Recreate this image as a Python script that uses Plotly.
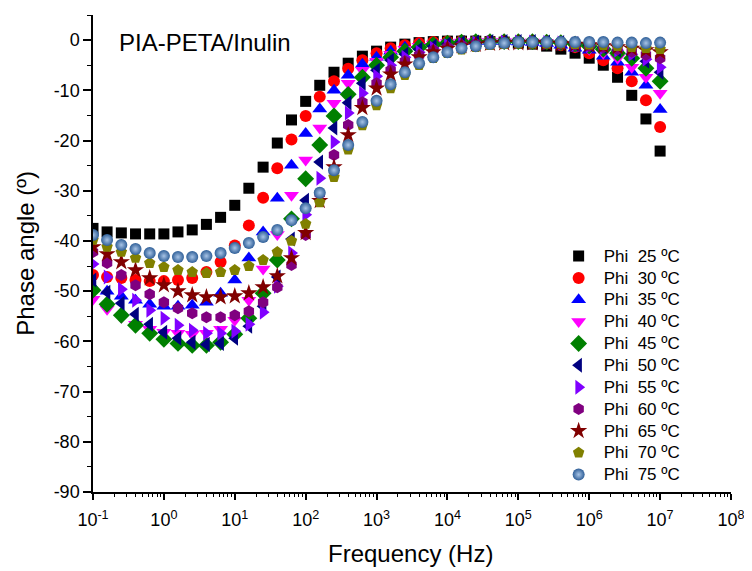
import plotly.graph_objects as go

freq = [0.1, 0.158, 0.251, 0.398, 0.631,
        1, 1.58, 2.51, 3.98, 6.31,
        10, 15.8, 25.1, 39.8, 63.1,
        100, 158, 251, 398, 631,
        1e3, 1.58e3, 2.51e3, 3.98e3, 6.31e3,
        1e4, 1.58e4, 2.51e4, 3.98e4, 6.31e4,
        1e5, 1.58e5, 2.51e5, 3.98e5, 6.31e5,
        1e6, 1.58e6, 2.51e6, 3.98e6, 6.31e6,
        1e7]

phi_25 = [-37.5, -38.2, -38.4, -38.6, -38.6, -38.6, -38.2, -37.8, -36.7, -35.3,
          -32.9, -29.5, -25.3, -20.5, -15.9, -12.2, -9.0, -6.4, -4.6, -3.2,
          -2.2, -1.4, -0.8, -0.5, -0.3, -0.2, -0.2, -0.2, -0.3, -0.4,
          -0.6, -0.8, -1.2, -1.8, -2.6, -3.6, -5.0, -7.4, -11.0, -15.7,
          -22.1]
phi_30 = [-46.8, -47.2, -47.4, -47.8, -48.0, -48.0, -47.8, -47.4, -46.2, -44.2,
          -40.9, -36.9, -31.4, -25.5, -19.8, -15.1, -11.3, -8.2, -5.7, -4.0,
          -2.6, -1.6, -1.0, -0.6, -0.4, -0.3, -0.2, -0.2, -0.2, -0.3,
          -0.4, -0.5, -0.7, -1.0, -1.4, -2.6, -4.0, -5.6, -8.2, -12.0,
          -17.3]
phi_35 = [-49.2, -50.0, -51.0, -51.8, -52.6, -53.0, -53.0, -52.8, -52.2, -50.4,
          -47.8, -43.4, -38.2, -31.5, -24.9, -18.6, -13.7, -10.0, -7.0, -4.8,
          -3.4, -2.2, -1.4, -0.9, -0.6, -0.4, -0.3, -0.3, -0.3, -0.3,
          -0.4, -0.5, -0.7, -1.0, -1.6, -2.0, -3.2, -4.4, -6.4, -9.0,
          -13.8]
phi_40 = [-51.6, -53.6, -55.2, -56.6, -57.6, -58.2, -58.4, -58.6, -58.4, -57.6,
          -55.8, -51.8, -45.6, -38.7, -30.9, -23.9, -17.5, -12.6, -8.6, -6.0,
          -4.2, -2.8, -1.8, -1.2, -0.8, -0.5, -0.4, -0.3, -0.3, -0.3,
          -0.4, -0.4, -0.5, -0.8, -1.2, -1.8, -2.6, -3.6, -5.4, -7.4,
          -10.6]
phi_45 = [-49.8, -52.6, -54.8, -56.8, -58.4, -59.6, -60.4, -60.8, -60.8, -60.2,
          -58.6, -55.4, -50.4, -43.8, -35.6, -27.6, -20.9, -15.1, -10.8, -7.4,
          -5.0, -3.4, -2.2, -1.4, -0.9, -0.6, -0.4, -0.3, -0.3, -0.3,
          -0.3, -0.3, -0.4, -0.5, -0.8, -1.2, -1.8, -2.6, -3.6, -5.6,
          -8.2]
phi_50 = [-47.8, -50.2, -52.4, -54.6, -56.6, -58.2, -59.4, -60.2, -60.6, -60.4,
          -59.4, -57.0, -53.0, -47.2, -39.6, -31.9, -24.3, -17.5, -12.5, -8.6,
          -6.0, -4.0, -2.8, -1.8, -1.2, -0.8, -0.5, -0.4, -0.3, -0.3,
          -0.3, -0.3, -0.4, -0.5, -0.7, -1.0, -1.4, -2.0, -2.8, -4.2,
          -6.4]
phi_55 = [-44.6, -47.2, -49.6, -51.8, -53.8, -55.4, -56.8, -57.8, -58.4, -58.4,
          -58.0, -56.6, -54.2, -49.0, -42.4, -34.8, -27.5, -20.3, -14.5, -10.6,
          -7.2, -5.0, -3.4, -2.4, -1.6, -1.1, -0.8, -0.6, -0.5, -0.4,
          -0.4, -0.4, -0.5, -0.6, -0.8, -1.1, -1.5, -2.0, -2.8, -3.8,
          -5.4]
phi_60 = [-42.2, -44.4, -46.8, -48.8, -50.6, -52.2, -53.4, -54.4, -55.2, -55.2,
          -54.8, -54.0, -52.2, -49.2, -44.8, -38.8, -30.6, -22.9, -16.9, -12.4,
          -8.6, -6.0, -4.2, -3.0, -2.0, -1.4, -1.0, -0.8, -0.6, -0.5,
          -0.5, -0.5, -0.6, -0.7, -0.9, -1.1, -1.4, -1.8, -2.3, -2.9,
          -3.6]
phi_65 = [-41.2, -42.6, -44.2, -45.8, -47.4, -48.8, -50.0, -50.8, -51.2, -51.2,
          -51.0, -50.4, -49.2, -47.0, -43.4, -38.4, -32.0, -25.3, -18.9, -13.5,
          -9.6, -6.8, -4.8, -3.4, -2.4, -1.7, -1.2, -0.9, -0.7, -0.6,
          -0.6, -0.6, -0.7, -0.8, -0.9, -1.0, -1.2, -1.4, -1.7, -2.0,
          -2.4]
phi_70 = [-39.8, -41.2, -42.2, -43.4, -44.4, -45.2, -45.8, -46.2, -46.4, -46.2,
          -45.8, -45.0, -43.8, -42.2, -40.0, -36.6, -32.3, -27.3, -21.8, -17.0,
          -13.0, -9.6, -7.0, -5.0, -3.6, -2.6, -1.9, -1.4, -1.0, -0.8,
          -0.7, -0.7, -0.7, -0.7, -0.8, -0.9, -1.0, -1.2, -1.4, -1.6,
          -1.8]
phi_75 = [-38.8, -39.8, -40.8, -41.6, -42.4, -43.0, -43.2, -43.2, -43.0, -42.4,
          -41.4, -40.4, -39.2, -37.8, -35.9, -33.5, -30.4, -25.9, -20.9, -16.3,
          -12.1, -8.8, -6.4, -4.6, -3.4, -2.4, -1.6, -1.2, -0.8, -0.6,
          -0.4, -0.4, -0.4, -0.4, -0.4, -0.4, -0.4, -0.5, -0.5, -0.6,
          -0.5]

temps = ["25", "30", "35", "40", "45", "50", "55", "60", "65", "70", "75"]
series = [phi_25, phi_30, phi_35, phi_40, phi_45, phi_50, phi_55, phi_60, phi_65, phi_70, phi_75]
colors = ["#000000", "#FF0000", "#0000FF", "#FF00FF", "#008000", "#000080",
          "#8000FF", "#800080", "#800000", "#808000", "#2F5F98"]
symbols = ["square", "circle", "triangle-up", "triangle-down", "diamond", "triangle-left",
           "triangle-right", "hexagon", "star", "pentagon", "circle"]
sizes = [11, 12, 13, 13, 13, 13, 13, 12, 13, 12, 12]

x_ticks = [1e-1, 1e0, 1e1, 1e2, 1e3, 1e4, 1e5, 1e6, 1e7, 1e8]
x_ticktext = ["10<sup>-1</sup>", "10<sup>0</sup>", "10<sup>1</sup>", "10<sup>2</sup>",
              "10<sup>3</sup>", "10<sup>4</sup>", "10<sup>5</sup>", "10<sup>6</sup>",
              "10<sup>7</sup>", "10<sup>8</sup>"]
x_minor = [m * d for d in x_ticks[:-1] for m in range(2, 10)]
y_ticks = [0, -10, -20, -30, -40, -50, -60, -70, -80, -90]
y_ticktext = ["0", "-10", "-20", "-30", "-40", "-50", "-60", "-70", "-80", "-90"]

FONT = "Liberation Sans, Arial, sans-serif"

fig = go.Figure()
for t, ys, c, s, sz in zip(temps, series, colors, symbols, sizes):
    marker = dict(symbol=s, color=c, size=sz, line=dict(width=0))
    if t == "75":
        marker["gradient"] = dict(type="radial", color="#A8C4E6")
    label = '<span style="font-size:17px">Phi\u00a0 ' + t + ' ºC</span>'
    fig.add_trace(go.Scatter(x=freq, y=ys, mode="markers", marker=marker, name=label))

fig.update_layout(
    width=744, height=563,
    margin=dict(l=85, r=16, t=7, b=79),
    paper_bgcolor="white", plot_bgcolor="white",
    font=dict(family=FONT, color="black", size=18),
    showlegend=True,
    legend=dict(x=0.722, y=0.528, xanchor="left", yanchor="top",
                bgcolor="rgba(0,0,0,0)", font=dict(size=14.5, family=FONT),
                tracegroupgap=0, itemsizing="trace", itemwidth=40),
    xaxis=dict(type="log", range=[-1, 8], showline=True, linecolor="black", linewidth=1.5,
               tickmode="array", tickvals=x_ticks, ticktext=x_ticktext,
               ticks="outside", ticklen=6, tickwidth=1.5, tickcolor="black",
               ticklabelstandoff=5,
               showgrid=False, zeroline=False,
               tickfont=dict(size=18, family=FONT),
               minor=dict(tickmode="array", tickvals=x_minor, ticks="outside",
                          ticklen=3.5, tickwidth=1.2, tickcolor="black", showgrid=False)),
    yaxis=dict(range=[-90, 5], showline=True, linecolor="black", linewidth=1.5,
               tickmode="array", tickvals=y_ticks, ticktext=y_ticktext,
               ticks="outside", ticklen=8, tickwidth=1.5, tickcolor="black",
               showgrid=False, zeroline=False,
               tickfont=dict(size=18, family=FONT),
               minor=dict(dtick=5, tick0=0, ticks="outside", ticklen=4,
                          tickwidth=1.2, tickcolor="black", showgrid=False)),
    annotations=[
        dict(text="Frequency (Hz)", xref="paper", yref="paper", x=0.498, y=-0.128,
             xanchor="center", yanchor="middle", showarrow=False,
             font=dict(size=24, family=FONT)),
        dict(text="Phase angle (º)", xref="paper", yref="paper", x=-0.107, y=0.501,
             xanchor="center", yanchor="middle", textangle=-90, showarrow=False,
             font=dict(size=24, family=FONT)),
        dict(text="PIA-PETA/Inulin", xref="paper", yref="paper", x=0.037, y=0.943,
             xanchor="left", yanchor="middle", showarrow=False,
             font=dict(size=24, family=FONT)),
    ],
)

fig.write_html("out.html")
